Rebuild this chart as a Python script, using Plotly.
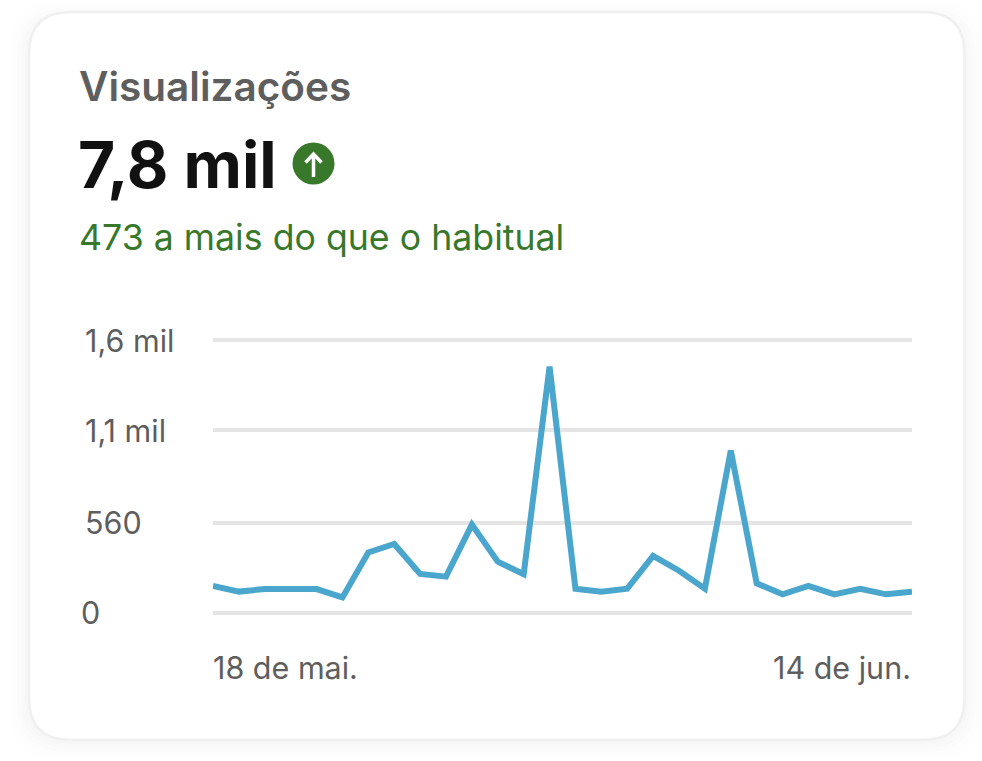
import plotly.graph_objects as go

days = ["18 de mai.", "19 de mai.", "20 de mai.", "21 de mai.", "22 de mai.", "23 de mai.", "24 de mai.",
        "25 de mai.", "26 de mai.", "27 de mai.", "28 de mai.", "29 de mai.", "30 de mai.", "31 de mai.",
        "1 de jun.", "2 de jun.", "3 de jun.", "4 de jun.", "5 de jun.", "6 de jun.", "7 de jun.",
        "8 de jun.", "9 de jun.", "10 de jun.", "11 de jun.", "12 de jun.", "13 de jun.", "14 de jun."]
views = [168, 133, 149, 149, 149, 97, 377, 429, 243, 226, 550, 319, 241, 1533,
         151, 133, 151, 355, 263, 151, 1010, 185, 116, 168, 116, 151, 116, 133]
y_ticks = [0, 560, 1138, 1698]
y_tick_labels = ["0", "560", "1,1 mil", "1,6 mil"]
x_tick_labels = ["18 de mai.", "14 de jun."]

W, H = 982, 761
FONT = "Inter, 'Noto Sans', sans-serif"
GREY = "#5E5E5E"
GREEN = "#37782A"


def fx(p):
    return p / W


def fy(p):
    return 1 - p / H


def rounded(x0, y0, x1, y1, r):
    a, b, c, d = fx(x0), fy(y0), fx(x1), fy(y1)
    rx, ry = r / W, r / H
    return (f"M {a+rx} {b} L {c-rx} {b} Q {c} {b} {c} {b-ry} L {c} {d+ry} Q {c} {d} {c-rx} {d} "
            f"L {a+rx} {d} Q {a} {d} {a} {d+ry} L {a} {b-ry} Q {a} {b} {a+rx} {b} Z")


shapes = []
for grow, alpha in [(22, .004), (17, .005), (12, .006), (8, .007), (4, .008)]:
    shapes.append(dict(type="path", xref="paper", yref="paper", layer="below",
                       path=rounded(29 - grow, 12 - grow + 8, 964 + grow, 740 + grow + 0, 38 + grow),
                       fillcolor=f"rgba(0,0,0,{alpha})", line=dict(width=0)))
shapes.append(dict(type="path", xref="paper", yref="paper", layer="below",
                   path=rounded(29, 12, 964.5, 740, 42),
                   fillcolor="#FFFFFF", line=dict(color="#F0F0F0", width=2.5)))
# badge with arrow
shapes.append(dict(type="circle", xref="paper", yref="paper", layer="above",
                   x0=fx(292.5), x1=fx(334.5), y0=fy(184.5), y1=fy(142.5),
                   fillcolor=GREEN, line=dict(width=0)))
shapes.append(dict(type="path", xref="paper", yref="paper", layer="above",
                   path=f"M {fx(313.5)} {fy(177)} L {fx(313.5)} {fy(153.5)} "
                        f"M {fx(305.5)} {fy(162.5)} L {fx(313.5)} {fy(154)} L {fx(321.5)} {fy(162.5)}",
                   line=dict(color="#FFFFFF", width=3.5)))

ann = [
    dict(text="Visualizações", x=fx(77), y=fy(86), size=40.5, color=GREY, weight=600),
    dict(text="7,8 mil", x=fx(76), y=fy(164), size=64, color="#111111", weight=700),
    dict(text="473 a mais do que o habitual", x=fx(76.5), y=fy(237), size=35.7, color=GREEN, weight=400),
]
annotations = [dict(text=a["text"], x=a["x"], y=a["y"], xref="paper", yref="paper", xanchor="left",
                    yanchor="middle", showarrow=False,
                    font=dict(family=FONT, size=a["size"], color=a["color"], weight=a["weight"]))
               for a in ann]
for v, t in zip(y_ticks, y_tick_labels):
    annotations.append(dict(text=t, x=fx(83 if v else 79), y=v, xref="paper", yref="y", xanchor="left",
                            yanchor="middle", showarrow=False, yshift=0,
                            font=dict(family=FONT, size=30.5, color=GREY)))
annotations.append(dict(text=x_tick_labels[0], x=x_tick_labels[0], y=fy(667), xref="x", yref="paper",
                        xanchor="left", yanchor="middle", showarrow=False, xshift=-2,
                        font=dict(family=FONT, size=30.5, color=GREY)))
annotations.append(dict(text=x_tick_labels[1], x=x_tick_labels[1], y=fy(667), xref="x", yref="paper",
                        xanchor="right", yanchor="middle", showarrow=False, xshift=1,
                        font=dict(family=FONT, size=30.5, color=GREY)))

# the y axis runs 20 px past its first and last gridline so that plotly draws both
PAD = 20 * 560 / 90
fig = go.Figure(go.Scatter(x=days, y=views, mode="lines", cliponaxis=False,
                           line=dict(color="#4AA6CC", width=6), hoverinfo="skip"))
fig.update_layout(
    width=W, height=H, margin=dict(l=0, r=0, t=0, b=0), autosize=False,
    paper_bgcolor="#FFFFFF", plot_bgcolor="rgba(0,0,0,0)", showlegend=False,
    shapes=shapes, annotations=annotations,
    xaxis=dict(domain=[fx(213), fx(912)], range=[0, 27], type="category", categoryorder="array",
               categoryarray=days, showgrid=False, showline=False, zeroline=False,
               showticklabels=False, ticks=""),
    yaxis=dict(domain=[fy(633), fy(320)], range=[-PAD, 1698 + PAD], tickmode="array", tickvals=y_ticks,
               showticklabels=False, ticks="", showgrid=True, gridcolor="#E5E5E5", gridwidth=4,
               zeroline=False, showline=False),
)
fig.write_html("out.html", post_script="document.body.style.margin='0';", config={"displayModeBar": False})
